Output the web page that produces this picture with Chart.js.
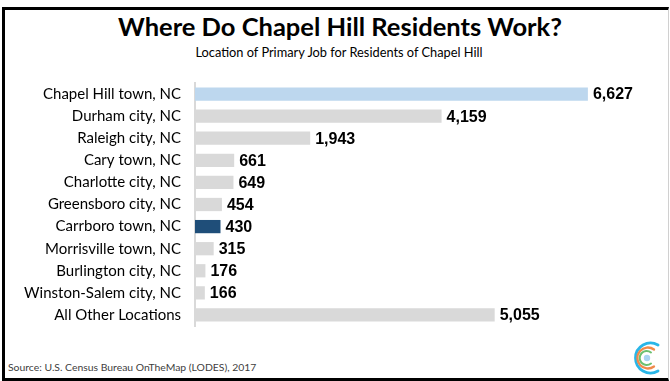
<!DOCTYPE html>
<html>
<head>
<meta charset="utf-8">
<script src="https://cdn.jsdelivr.net/npm/chart.js@4/dist/chart.umd.min.js"></script>
<style>
  html, body { margin: 0; padding: 0; background: #fff; }
  body { width: 670px; height: 381px; position: relative; overflow: hidden; font-family: 'Lato', sans-serif; }
  #frame {
    position: absolute; left: 2px; top: 7px; width: 663px; height: 368px;
    border-top: 3px solid #000; border-left: 3px solid #000; border-bottom: 3px solid #000;
    border-right: 1px solid #d0d0d0;
  }
  #title { position: absolute; left: 0; width: 680px; top: 11px; text-align: center; font-weight: 700; font-size: 25.5px; color: #000; }
  #subtitle { position: absolute; left: 0; width: 678px; top: 44px; text-align: center; font-size: 12.8px; color: #000; }
  #source { position: absolute; left: 8px; top: 361px; font-size: 10.4px; color: #404040; }
  #chart { position: absolute; left: 0; top: 60px; }
  #logo { position: absolute; left: 627px; top: 340px; }
</style>
</head>
<body>
<div id="frame"></div>
<div id="title">Where Do Chapel Hill Residents Work?</div>
<div id="subtitle">Location of Primary Job for Residents of Chapel Hill</div>
<canvas id="chart" width="640" height="289"></canvas>
<div id="source">Source: U.S. Census Bureau OnTheMap (LODES), 2017</div>
<svg id="logo" width="36" height="36" viewBox="0 0 36 36">
  <path d="M31 5 A15 15 0 1 0 31 31" fill="none" stroke="#29b6e8" stroke-width="2.8" stroke-linecap="round"/>
  <path d="M27 9.5 A10.5 10.5 0 1 0 27 26.5" fill="none" stroke="#f08a4b" stroke-width="2.3" stroke-linecap="round"/>
  <path d="M24 12.5 A7 7 0 1 0 24 23.5" fill="none" stroke="#6cc070" stroke-width="2" stroke-linecap="round"/>
  <circle cx="20" cy="18" r="3.2" fill="#a9d4f2"/>
</svg>
<script>
/* ─── Data ─── */
const places = [
  'Chapel Hill town, NC', 'Durham city, NC', 'Raleigh city, NC', 'Cary town, NC',
  'Charlotte city, NC', 'Greensboro city, NC', 'Carrboro town, NC', 'Morrisville town, NC',
  'Burlington city, NC', 'Winston-Salem city, NC', 'All Other Locations'
];
const workers = [6627, 4159, 1943, 661, 649, 454, 430, 315, 176, 166, 5055];
const barColors = [
  '#bdd7ee', '#d9d9d9', '#d9d9d9', '#d9d9d9', '#d9d9d9', '#d9d9d9',
  '#1f4e79', '#d9d9d9', '#d9d9d9', '#d9d9d9', '#d9d9d9'
];

/* ─── value labels at bar ends ─── */
const valueLabels = {
  id: 'valueLabels',
  afterDatasetsDraw(c) {
    const ctx = c.ctx;
    const meta = c.getDatasetMeta(0);
    ctx.save();
    ctx.font = "bold 16px 'Liberation Sans', Arial, sans-serif";
    ctx.fillStyle = '#000';
    ctx.textBaseline = 'middle';
    ctx.textAlign = 'left';
    meta.data.forEach((bar, i) => {
      ctx.fillText(workers[i].toLocaleString('en-US'), bar.x + 5, bar.y + 1);
    });
    ctx.restore();
  }
};

new Chart(document.getElementById('chart'), {
  type: 'bar',
  data: {
    labels: places,
    datasets: [{
      data: workers,
      backgroundColor: barColors,
      borderWidth: 0,
      categoryPercentage: 1,
      barPercentage: 0.6
    }]
  },
  options: {
    indexAxis: 'y',
    responsive: false,
    animation: false,
    layout: { padding: { left: 0, right: 30, top: 4, bottom: 5 } },
    plugins: { legend: { display: false }, tooltip: { enabled: false } },
    scales: {
      x: { display: false, min: 0, max: 7000 },
      y: {
        afterFit(s) { s.width = 195; },
        grid: { display: false, drawTicks: false },
        border: { display: true, color: '#d9d9d9', width: 2 },
        ticks: { color: '#000', padding: 14, font: { family: 'Lato', size: 15 } }
      }
    }
  },
  plugins: [valueLabels]
});
</script>
</body>
</html>
